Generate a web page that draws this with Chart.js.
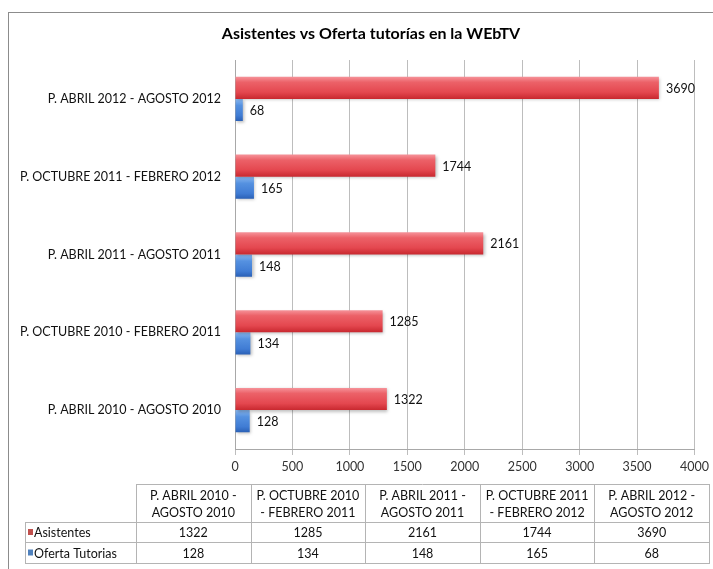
<!DOCTYPE html>
<html lang="es">
<head>
<meta charset="utf-8">
<title>Asistentes vs Oferta tutorías en la WEbTV</title>
<script src="https://cdn.jsdelivr.net/npm/chart.js@4.4.1/dist/chart.umd.min.js"></script>
<style>
  html, body { margin: 0; padding: 0; background: #ffffff; }
  canvas { display: block; }
</style>
</head>
<body>
<canvas id="chart" width="713" height="569"></canvas>
<script>
// Periods, in chronological order (same order as the data table)
const periodos = [
  'P. ABRIL 2010 - AGOSTO 2010',
  'P. OCTUBRE 2010 - FEBRERO 2011',
  'P. ABRIL 2011 - AGOSTO 2011',
  'P. OCTUBRE 2011 - FEBRERO 2012',
  'P. ABRIL 2012 - AGOSTO 2012'
];
const asistentes = [1322, 1285, 2161, 1744, 3690];
const ofertaTutorias = [128, 134, 148, 165, 68];
const serieNombres = ['Asistentes', 'Oferta Tutorias'];
const titulo = 'Asistentes vs Oferta tutorías en la WEbTV';
const ejeMax = 4000;
const ejePaso = 500;

const FONT = 'Lato, "Open Sans", sans-serif';
const FS = 12.5;
const TEXT = '#111111';
const CAT_PCT = 0.57;

// Vertical "cylinder" shading for each bar, computed from the category scale
function barFill(stops) {
  return (c) => {
    const chart = c.chart;
    const ys = chart.scales && chart.scales.y;
    if (!ys || c.type !== 'data' || !chart.chartArea) return stops[1][1];
    const p0 = ys.getPixelForValue(0);
    const p1 = ys.getPixelForValue(1);
    const band = Math.abs(p1 - p0);
    const thick = band * CAT_PCT / 2;
    const center = ys.getPixelForValue(c.dataIndex);
    const top = center - thick + c.datasetIndex * thick;
    const g = chart.ctx.createLinearGradient(0, top, 0, top + thick);
    stops.forEach(([o, col]) => g.addColorStop(o, col));
    return g;
  };
}

const redStops = [[0, '#f6939a'], [0.25, '#ec6168'], [0.7, '#e4474f'], [1, '#c8282f']];
const blueStops = [[0, '#8ab8f0'], [0.3, '#5591e0'], [0.75, '#407cd4'], [1, '#2a60b6']];

// Soft drop shadow under the bars
const barShadow = {
  id: 'barShadow',
  beforeDatasetsDraw(chart) {
    const ctx = chart.ctx;
    ctx.save();
    ctx.shadowColor = 'rgba(0,0,0,0.25)';
    ctx.shadowBlur = 3;
    ctx.shadowOffsetX = 1.5;
    ctx.shadowOffsetY = 1.5;
  },
  afterDatasetsDraw(chart) {
    chart.ctx.restore();
  }
};

// Value labels at the end of each bar
const valueLabels = {
  id: 'valueLabels',
  afterDatasetsDraw(chart) {
    const ctx = chart.ctx;
    ctx.save();
    ctx.font = FS + 'px ' + FONT;
    ctx.fillStyle = TEXT;
    ctx.textAlign = 'left';
    ctx.textBaseline = 'middle';
    chart.data.datasets.forEach((ds, di) => {
      chart.getDatasetMeta(di).data.forEach((el, i) => {
        ctx.fillText(String(ds.data[i]), el.x + 7, el.y + 1);
      });
    });
    ctx.restore();
  }
};

function wrapText(ctx, text, maxW) {
  const words = text.split(' ');
  const lines = [];
  let line = '';
  words.forEach(w => {
    const test = line ? line + ' ' + w : w;
    if (ctx.measureText(test).width > maxW && line) {
      lines.push(line);
      line = w;
    } else {
      line = test;
    }
  });
  if (line) lines.push(line);
  return lines;
}

// Title, outer frame and the data table under the axis
const frameAndTable = {
  id: 'frameAndTable',
  afterDraw(chart) {
    const ctx = chart.ctx;
    ctx.save();

    // chart frame
    ctx.strokeStyle = '#8c8c8c';
    ctx.lineWidth = 1;
    ctx.strokeRect(8.5, 12.5, 730, 600);

    // title
    ctx.fillStyle = '#000000';
    ctx.font = 'bold 16px ' + FONT;
    ctx.textAlign = 'center';
    ctx.textBaseline = 'middle';
    ctx.fillText(titulo, 371, 34);

    const ca = chart.chartArea;
    const tLeft = 136, tRight = 709, lLeft = 25;
    const colW = (tRight - tLeft) / periodos.length;
    const hTop = ca.bottom + 35;
    const hBot = hTop + 38;
    const r1 = hBot + 20;
    const r2 = r1 + 21;

    ctx.strokeStyle = '#b4b4b4';
    ctx.lineWidth = 1;
    ctx.beginPath();
    // horizontal rules
    [[tLeft, hTop], [lLeft, hBot], [lLeft, r1], [lLeft, r2]].forEach(([x0, y]) => {
      ctx.moveTo(x0, Math.round(y) + 0.5);
      ctx.lineTo(tRight, Math.round(y) + 0.5);
    });
    // vertical rules
    ctx.moveTo(lLeft + 0.5, Math.round(hBot));
    ctx.lineTo(lLeft + 0.5, Math.round(r2) + 1);
    for (let i = 0; i <= periodos.length; i++) {
      const x = Math.round(tLeft + i * colW) + 0.5;
      ctx.moveTo(x, Math.round(hTop));
      ctx.lineTo(x, Math.round(r2) + 1);
    }
    ctx.stroke();

    ctx.fillStyle = TEXT;
    ctx.font = FS + 'px ' + FONT;
    ctx.textAlign = 'center';
    ctx.textBaseline = 'middle';

    // header
    periodos.forEach((p, i) => {
      const cx = tLeft + i * colW + colW / 2;
      const lines = wrapText(ctx, p, colW - 6);
      const mid = (hTop + hBot) / 2;
      lines.forEach((ln, k) => {
        ctx.fillText(ln, cx, mid + (k - (lines.length - 1) / 2) * 17 + 1);
      });
    });

    // rows
    const series = [asistentes, ofertaTutorias];
    const keyCols = ['#c0504d', '#4f81bd'];
    const rows = [[hBot, r1], [r1, r2]];
    series.forEach((vals, s) => {
      const mid = (rows[s][0] + rows[s][1]) / 2 + 1;
      vals.forEach((v, i) => {
        ctx.textAlign = 'center';
        ctx.fillText(String(v), tLeft + i * colW + colW / 2, mid);
      });
      ctx.fillStyle = keyCols[s];
      ctx.fillRect(lLeft + 3, mid - 4, 5, 6);
      ctx.fillStyle = TEXT;
      ctx.textAlign = 'left';
      ctx.fillText(serieNombres[s], lLeft + 9, mid);
    });

    ctx.restore();
  }
};

// Newest period at the top of the chart
const etiquetas = periodos.slice().reverse();

new Chart(document.getElementById('chart'), {
  type: 'bar',
  data: {
    labels: etiquetas,
    datasets: [
      {
        label: serieNombres[0],
        data: asistentes.slice().reverse(),
        backgroundColor: barFill(redStops),
        borderWidth: 0,
        categoryPercentage: CAT_PCT,
        barPercentage: 1.0
      },
      {
        label: serieNombres[1],
        data: ofertaTutorias.slice().reverse(),
        backgroundColor: barFill(blueStops),
        borderWidth: 0,
        categoryPercentage: CAT_PCT,
        barPercentage: 1.0
      }
    ]
  },
  options: {
    indexAxis: 'y',
    responsive: false,
    animation: false,
    devicePixelRatio: 1,
    layout: { padding: { left: 9, right: 18, top: 60, bottom: 0 } },
    plugins: {
      legend: { display: false },
      tooltip: { enabled: false },
      title: { display: false }
    },
    scales: {
      x: {
        min: 0,
        max: ejeMax,
        ticks: {
          stepSize: ejePaso,
          color: '#333333',
          font: { family: FONT, size: FS },
          padding: 4,
          callback: (v) => String(v)
        },
        grid: { color: '#bdbdbd', tickLength: 6, drawTicks: true },
        border: { color: '#a8a8a8' },
        afterFit(s) { s.height = 120; }
      },
      y: {
        ticks: {
          color: TEXT,
          font: { family: FONT, size: FS },
          padding: 6
        },
        grid: { display: false },
        border: { display: true, color: '#a8a8a8' },
        afterFit(s) { s.width = 226; }
      }
    }
  },
  plugins: [barShadow, valueLabels, frameAndTable]
});
</script>
</body>
</html>
